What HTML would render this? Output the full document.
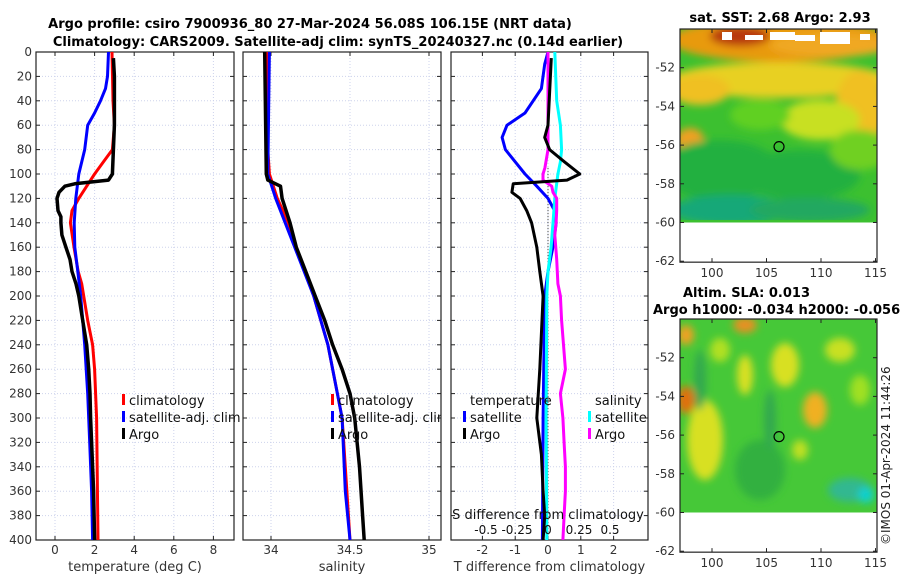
<!DOCTYPE html>
<html><head><meta charset="utf-8"><style>
body{margin:0;background:#fff;}
svg{display:block;font-family:"DejaVu Sans","Liberation Sans",sans-serif;}
</style></head><body>
<svg id="fig" width="900" height="580" viewBox="0 0 900 580">
<defs>
<filter id="blur4"><feGaussianBlur stdDeviation="4"/></filter>
<clipPath id="c1"><rect x="36" y="52" width="198" height="488"/></clipPath>
<clipPath id="c2"><rect x="243" y="52" width="198" height="488"/></clipPath>
<clipPath id="c3"><rect x="451" y="52" width="197" height="488"/></clipPath>
<clipPath id="m1"><rect x="680" y="29" width="197" height="191"/></clipPath>
<clipPath id="m2"><rect x="680" y="319" width="197" height="192"/></clipPath>
</defs>
<text x="310" y="28" font-size="13" font-weight="bold" text-anchor="middle">Argo profile: csiro 7900936_80 27-Mar-2024 56.08S 106.15E (NRT data)</text>
<text x="338" y="46" font-size="13" font-weight="bold" text-anchor="middle">Climatology: CARS2009. Satellite-adj clim: synTS_20240327.nc (0.14d earlier)</text>
<g id="p1"></g>
<g id="p2"></g>
<g id="p3"></g>
<g id="map1"></g>
<g id="map2"></g>
<text transform="translate(890,545) rotate(-90)" font-size="12" fill="#222">©IMOS 01-Apr-2024 11:44:26</text>
</svg>
<script>
// ---- data ----
const depthTicks=[0,20,40,60,80,100,120,140,160,180,200,220,240,260,280,300,320,340,360,380,400];
const climD=[0,40,60,80,90,100,110,120,130,140,160,180,190,220,240,260,300,400];
const climT=[2.88,2.93,3.0,2.9,2.45,2.0,1.6,1.2,0.86,0.78,0.96,1.17,1.35,1.65,1.9,2.0,2.1,2.17];
const satD=[0,20,30,40,50,60,80,100,120,140,160,180,200,240,280,320,360,400];
const satT=[2.7,2.65,2.55,2.3,2.0,1.65,1.5,1.2,1.05,0.97,1.0,1.15,1.3,1.5,1.65,1.75,1.85,1.9];
const argoD=[5,20,60,100,105,108,110,115,120,130,135,140,150,160,170,180,190,200,220,240,260,280,300,340,360,400];
const argoT=[2.95,3.0,3.0,2.9,2.7,1.0,0.5,0.2,0.1,0.15,0.3,0.3,0.35,0.55,0.76,0.86,1.06,1.2,1.4,1.6,1.7,1.77,1.8,1.9,1.95,2.0];
const climSD=[0,80,100,120,140,160,200,240,280,300,340,400];
const climS=[33.98,33.98,33.99,34.04,34.11,34.16,34.27,34.36,34.42,34.45,34.47,34.5];
const satSD=[0,100,120,140,160,200,240,280,300,360,400];
const satS=[33.99,33.98,34.03,34.09,34.15,34.27,34.36,34.42,34.45,34.47,34.5];
const argoSD=[0,100,105,110,120,140,160,180,200,220,240,260,280,300,340,380,400];
const argoS=[33.96,33.97,33.98,34.06,34.07,34.12,34.16,34.22,34.28,34.34,34.39,34.45,34.5,34.53,34.56,34.58,34.59];
const dTsatD=[0,10,30,50,60,70,80,90,100,110,120,130,140,160,180,200,300,400];
const dTsat=[0,-0.1,-0.2,-0.7,-1.25,-1.4,-1.3,-1.0,-0.7,-0.34,0,0.2,0.25,0.15,0,-0.1,-0.15,-0.17];
const dTargoD=[5,60,70,80,90,100,105,108,115,120,130,140,160,180,200,260,300,330,360,380,400];
const dTargo=[0.1,0,-0.1,0.05,0.5,0.97,0.58,-1.06,-1.1,-0.85,-0.65,-0.5,-0.34,-0.25,-0.15,-0.25,-0.34,-0.2,-0.15,-0.1,-0.15];
const dSsatD=[0,40,60,80,90,100,120,140,160,180,200,300,400];
const dSsat=[0.055,0.07,0.1,0.11,0.1,0.08,0.055,0.04,0.025,0,-0.01,-0.015,-0.01];
const dSargoD=[0,60,80,95,100,105,110,115,120,130,140,150,170,190,200,220,260,280,300,320,340,360,380,400];
const dSargo=[0,0,0,-0.025,-0.04,-0.04,0.03,0.04,0.07,0.07,0.065,0.055,0.07,0.08,0.1,0.11,0.14,0.1,0.12,0.13,0.14,0.14,0.13,0.12];
const tTicks=[0,2,4,6,8];
const sTicks=[34,34.5,35];
const sTickLabels=["34","34.5","35"];
const dTicks=[-2,-1,0,1,2];
const dsTicks=[-0.5,-0.25,0,0.25,0.5];
const mapYTicks=[-52,-54,-56,-58,-60,-62];
const mapXTicks=[100,105,110,115];

const NS="http://www.w3.org/2000/svg";
function mk(parent,tag,attrs,txt){const e=document.createElementNS(NS,tag);for(const k in attrs)e.setAttribute(k,attrs[k]);if(txt!==undefined)e.textContent=txt;parent.appendChild(e);return e;}
const yD=d=>52+d*1.22;
const x1=v=>55+v*19.8;
const x2=v=>271+(v-34)*158;
const x3=v=>548+v*32.8;
const xs3=v=>548+v*124;

function panel(g,L,W,xTicks,xf,xLabels,xTitle,clip,showY){
  for(const d of depthTicks){const l=mk(g,'line',{x1:L,x2:L+W,y1:yD(d),y2:yD(d),stroke:'#cdd3ec','stroke-width':1,'stroke-dasharray':'1,2'});}
  xTicks.forEach(v=>{const l=mk(g,'line',{x1:xf(v),x2:xf(v),y1:52,y2:540,stroke:'#cdd3ec','stroke-width':1,'stroke-dasharray':'1,2'});});
  const f=mk(g,'rect',{x:L,y:52,width:W,height:488,fill:'none',stroke:'#222','stroke-width':1.2});
  
  for(const d of depthTicks){mk(g,'line',{x1:L,x2:L+4,y1:yD(d),y2:yD(d),stroke:'#222'});mk(g,'line',{x1:L+W-4,x2:L+W,y1:yD(d),y2:yD(d),stroke:'#222'});
    if(showY){const t=mk(g,'text',{x:L-4,y:yD(d)+4,'font-size':12,'text-anchor':'end',fill:'#333'},String(d));}}
  xTicks.forEach((v,i)=>{mk(g,'line',{x1:xf(v),x2:xf(v),y1:540,y2:536,stroke:'#222'});mk(g,'line',{x1:xf(v),x2:xf(v),y1:52,y2:56,stroke:'#222'});
    const t=mk(g,'text',{x:xf(v),y:554,'font-size':12,'text-anchor':'middle',fill:'#333'},xLabels[i]);});
  const tt=mk(g,'text',{x:L+W/2,y:571,'font-size':13,'text-anchor':'middle',fill:'#333'},xTitle);
}
function line(g,ds,vs,xf,color,w,clip,name){
  const pts=ds.map((d,i)=>xf(vs[i]).toFixed(1)+','+yD(d).toFixed(1)).join(' ');
  const p=mk(g,'polyline',{points:pts,fill:'none',stroke:color,'stroke-width':w,'stroke-linejoin':'round','clip-path':'url(#'+clip+')'});
  
}
function legend(g,x,y,color,label){
  const b=mk(g,'rect',{x:x,y:y-6,width:3,height:11,fill:color});
  const t=mk(g,'text',{x:x+7,y:y+5,'font-size':13,fill:'#111'},label);
}
const p1=document.getElementById('p1');
panel(p1,36,198,tTicks,x1,tTicks.map(String),'temperature (deg C)','c1',true);
line(p1,climD,climT,x1,'#f00',3,'c1','climatology-temp-line');
line(p1,satD,satT,x1,'#00f',3,'c1','satellite-temp-line');
line(p1,argoD,argoT,x1,'#000',3.5,'c1','argo-temp-line');
legend(p1,122,400,'#f00','climatology');legend(p1,122,417,'#00f','satellite-adj. clim');legend(p1,122,434,'#000','Argo');

const p2=document.getElementById('p2');
panel(p2,243,198,sTicks,x2,sTickLabels,'salinity','c2',false);
line(p2,climSD,climS,x2,'#f00',3,'c2','climatology-sal-line');
line(p2,satSD,satS,x2,'#00f',3,'c2','satellite-sal-line');
line(p2,argoSD,argoS,x2,'#000',3.5,'c2','argo-sal-line');
const lg2=mk(p2,'g',{'clip-path':'url(#c2)'});
legend(lg2,331,400,'#f00','climatology');legend(lg2,331,417,'#00f','satellite-adj. clim');legend(lg2,331,434,'#000','Argo');

const p3=document.getElementById('p3');
panel(p3,451,197,dTicks,x3,dTicks.map(String),'T difference from climatology','c3',false);
const zl=mk(p3,'line',{x1:x3(0),x2:x3(0),y1:yD(95),y2:540,stroke:'#333','stroke-dasharray':'1,2'});
line(p3,dTsatD,dTsat,x3,'#00f',3,'c3','satellite-tdiff-line');
line(p3,dSsatD,dSsat,xs3,'#0ff',3,'c3','satellite-sdiff-line');
line(p3,dSargoD,dSargo,xs3,'#f0f',3,'c3','argo-sdiff-line');
line(p3,dTargoD,dTargo,x3,'#000',3,'c3','argo-tdiff-line');
const tl=mk(p3,'text',{x:470,y:405,'font-size':13,fill:'#111'},'temperature');
const sl=mk(p3,'text',{x:595,y:405,'font-size':13,fill:'#111'},'salinity');
legend(p3,463,417,'#00f','satellite');legend(p3,463,434,'#000','Argo');
legend(p3,588,417,'#0ff','satellite');legend(p3,588,434,'#f0f','Argo');
const st=mk(p3,'text',{x:548,y:519,'font-size':13,'text-anchor':'middle',fill:'#111'},'S difference from climatology');
dsTicks.forEach(v=>{const t=mk(p3,'text',{x:xs3(v),y:534,'font-size':12,'text-anchor':'middle',fill:'#111'},String(v));});

// maps
const mx=lon=>712+(lon-100)*10.9;
function mapAxes(g,top,clip,blobs,base){
  const yL=lat=>top+(-50-lat)*19.35;
  const bg=mk(g,'rect',{x:680,y:top,width:197,height:yL(-60)-top,fill:base});
  const bg2=mk(g,'g',{'clip-path':'url(#'+clip+')'});
  const bl=mk(bg2,'g',{filter:'url(#blur4)'});
  blobs.forEach(b=>{mk(bl,'ellipse',{cx:b[0],cy:b[1],rx:b[2],ry:b[3],fill:b[4]});});
  const f=mk(g,'rect',{x:680,y:top,width:197,height:yL(-62.05)-top,fill:'none',stroke:'#222','stroke-width':1.2});
  mapYTicks.forEach(v=>{const y=yL(v);mk(g,'line',{x1:680,x2:684,y1:y,y2:y,stroke:'#222'});mk(g,'line',{x1:873,x2:877,y1:y,y2:y,stroke:'#222'});
    const t=mk(g,'text',{x:675,y:y+4,'font-size':12,'text-anchor':'end',fill:'#333'},String(v));});
  const bot=yL(-62.05);
  mapXTicks.forEach(v=>{mk(g,'line',{x1:mx(v),x2:mx(v),y1:bot,y2:bot-4,stroke:'#222'});mk(g,'line',{x1:mx(v),x2:mx(v),y1:top,y2:top+4,stroke:'#222'});
    const t=mk(g,'text',{x:mx(v),y:bot+15,'font-size':12,'text-anchor':'middle',fill:'#333'},String(v));});
  const c=mk(g,'circle',{cx:mx(106.15),cy:yL(-56.08),r:5,fill:'none',stroke:'#000','stroke-width':1.2});
}
const m1=document.getElementById('map1');
mapAxes(m1,29,'m1',[
 [780,40,110,22,'#e89a10'],[740,36,30,10,'#b83808'],[830,45,60,12,'#f0a820'],
 [780,80,110,18,'#e8d020'],[860,110,25,40,'#f0c020'],[690,140,14,12,'#f0a020'],
 [700,90,30,15,'#f0c020'],[820,120,40,20,'#c8e020'],[760,115,30,15,'#60d020'],[720,170,60,30,'#20b040'],
 [800,175,60,25,'#20b040'],[860,150,30,20,'#70d020'],[730,210,60,15,'#18a878'],[810,210,60,12,'#20a860']
],'#3cc030');
const w=mk(m1,'g',{});
[[722,32,10,8],[745,35,18,5],[770,32,25,8],[795,35,20,6],[820,32,30,12],[860,34,10,6]].forEach(r=>mk(w,'rect',{x:r[0],y:r[1],width:r[2],height:r[3],fill:'#fff'}));
const st1=mk(m1,'text',{x:780,y:22,'font-size':13,'font-weight':'bold','text-anchor':'middle'},'sat. SST: 2.68 Argo: 2.93');
const m2=document.getElementById('map2');
mapAxes(m2,319,'m2',[
 [686,335,8,10,'#f0a020'],[745,325,12,8,'#e89020'],[686,400,9,14,'#e07010'],[705,440,18,40,'#d8e020'],
 [785,365,14,22,'#d8e020'],[815,410,12,18,'#f0b020'],[745,375,8,20,'#d8e020'],[840,350,15,12,'#c8e020'],
 [720,350,10,12,'#b0e020'],[860,390,10,15,'#a0e020'],[850,490,22,12,'#30b890'],[866,495,8,8,'#10d0d0'],
 [760,470,25,30,'#30b040'],[800,450,8,10,'#c0e020'],[700,380,6,30,'#30a850'],[770,420,6,30,'#30a850']
],'#46c838');
const a1=mk(m2,'text',{x:683,y:297,'font-size':13,'font-weight':'bold'},'Altim. SLA: 0.013');
const a2=mk(m2,'text',{x:653,y:314,'font-size':13,'font-weight':'bold'},'Argo h1000: -0.034 h2000: -0.056');
</script>
</body></html>
